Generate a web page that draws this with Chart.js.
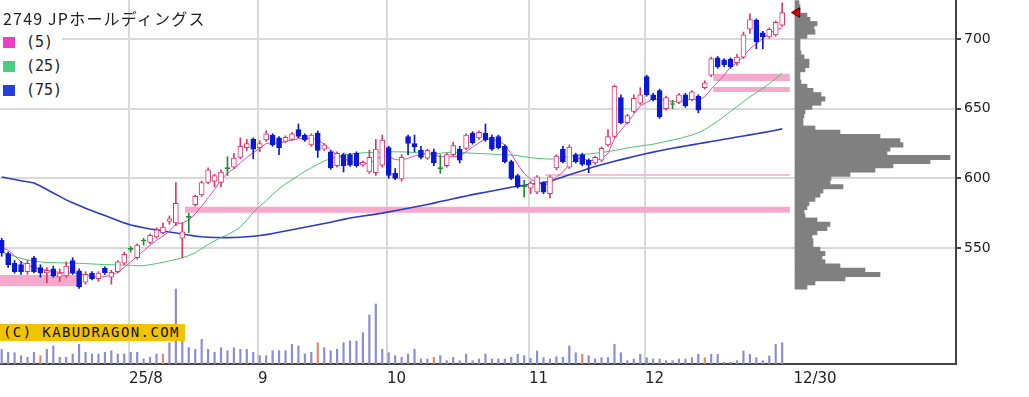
<!DOCTYPE html>
<html lang="ja">
<head>
<meta charset="UTF-8">
<title>2749 JPホールディングス</title>
<script src="https://cdn.jsdelivr.net/npm/chart.js"></script>
<style>
  body { margin: 0; background: #fff; }
  .wrap { position: relative; width: 1029px; height: 397px; }
  canvas { position: absolute; left: 0; top: 0; }
  .title {
    position: absolute; left: 3px; top: 6px;
    font: 16px 'Noto Sans CJK JP', sans-serif; letter-spacing: 1.2px; color: #222;
  }
  .legend {
    position: absolute; left: 0; top: 30px; width: 62px; background: #fff;
    font: 15px 'DejaVu Sans Mono', monospace; color: #222;
  }
  .legend div { height: 24px; display: flex; align-items: center; }
  .legend .box { width: 12px; height: 11px; margin: 0 11px 0 3px; }
  .wm {
    position: absolute; left: 0; top: 324px; width: 185px; height: 17px;
    background: #f2c300; font: 14px 'DejaVu Sans Mono', monospace;
    letter-spacing: 1.4px; line-height: 17px; padding-left: 3px; box-sizing: border-box; color: #111;
  }
</style>
</head>
<body>
<div class="wrap">
  <canvas id="chart" width="1029" height="397"></canvas>
  <div class="title">2749 JPホールディングス</div>
  <div class="legend">
    <div><span class="box" style="background:#ef3cc8"></span>(5)</div>
    <div><span class="box" style="background:#46d080"></span>(25)</div>
    <div><span class="box" style="background:#2040e0"></span>(75)</div>
  </div>
  <div class="wm">(C) KABUDRAGON.COM</div>
</div>

<script>
// daily candles, 25/7 .. 25/12/30
const opens = [
  555.5, 546, 539, 538, 533, 543, 536, 532, 535, 529,
  530, 541, 533.5, 525.5, 532, 528, 535.5, 529, 533, 539,
  549, 543, 555, 554, 558, 561, 569, 568, 557, 572,
  581, 588, 597, 598, 597, 607, 608, 615, 622, 628,
  622, 627.5, 631, 629, 626.5, 628, 635, 631, 624, 632.5,
  621, 619, 609, 617, 617, 618, 609.5, 604.5, 604, 609.5,
  622, 603.5, 599.5, 630, 625, 620, 614.5, 619, 607, 609,
  617, 621, 621.5, 632.5, 629, 632.5, 629.5, 630, 623, 612,
  602, 594, 593, 590, 596.5, 589, 607.5, 621, 608, 617,
  617, 613, 611, 613, 624, 630, 658, 640, 648, 654,
  673, 660, 663, 650, 653, 654.5, 660, 656.5, 659, 665,
  674, 686.5, 685, 685.5, 683, 687, 707, 713.5, 704.5, 701.5,
  703, 710
];
const highs = [
  557, 547, 541, 540, 541, 544, 538, 536, 537, 535,
  540, 543, 535, 533, 533, 533, 536.5, 534, 541, 547,
  551, 553, 557, 560, 564.5, 568, 573, 597, 568, 575,
  588, 598, 607.5, 603, 606, 615.5, 618, 629, 628, 629,
  627, 634, 632, 630, 630.5, 633, 639, 632, 632, 634,
  625, 620, 619, 618, 618, 619, 612.5, 620, 628, 631,
  623, 607, 617, 631, 631, 623, 621, 621, 617, 618,
  626, 623, 632, 633.5, 634, 639, 631, 631, 624, 613,
  603, 598.5, 598, 602, 597.5, 602, 617, 623, 624, 618,
  618, 614, 616, 622.5, 635, 667, 660, 646, 660, 665,
  674, 661, 664, 659, 656, 661, 661, 663, 660, 670,
  687, 687.5, 686, 686.5, 689, 705, 718, 714.5, 705.5, 708,
  713, 726
];
const lows = [
  544, 536, 532, 531, 531, 532, 529, 525, 529, 526,
  529, 531, 521, 524, 527, 526, 531, 524, 532, 538,
  547, 542, 552, 553, 557, 560, 567, 566, 543, 561,
  580, 587, 596, 594, 594, 602, 607, 614, 620, 614,
  619, 626.5, 623, 617, 625.5, 627, 629, 626.5, 623, 615,
  620, 606.5, 608, 604.5, 608.5, 608, 608.5, 603.5, 602, 608,
  600, 599, 598, 617, 619, 614, 613.5, 609, 603.5, 608,
  616, 611, 620.5, 624.5, 628, 626.5, 620, 621, 611, 599,
  593, 586.5, 589, 589, 589, 586, 606, 611, 607, 611,
  609, 604, 610, 612, 623, 629, 639, 639, 647, 653,
  659, 655.5, 643, 649, 650, 653.5, 651, 655.5, 647, 664,
  673, 679, 680, 679, 681, 686, 704, 693, 693, 700.5,
  702, 709
];
const closes = [
  546.5, 538, 533, 533, 539, 533, 532, 534, 530, 532,
  537, 532, 522, 531, 528, 532, 532, 532.5, 540, 545.5,
  549, 552, 555, 559, 563, 565, 571, 582, 561.5, 572,
  587, 597, 606, 602, 604.5, 607, 614.5, 623, 625, 621,
  625, 632, 624, 622, 629.5, 632, 630, 627.5, 631, 620,
  624, 607.5, 618, 609, 609.5, 609, 611.5, 615, 621, 627.5,
  602, 600, 615, 625, 622.5, 615, 620, 611, 607, 617,
  623.5, 613, 631, 625.5, 633, 627.5, 621, 622, 612, 600,
  594, 594, 596.5, 601, 590, 601, 616, 612, 622.5, 612,
  610, 609.5, 615, 621.5, 630, 666, 640, 645, 657.5, 660,
  660, 656.5, 644, 658, 653, 660, 652, 662, 649, 668.5,
  686, 680, 681.5, 680, 687, 703, 714, 698, 701.5, 707,
  712, 719
];
const volumes = [
  147, 117, 113, 83, 67, 117, 83, 147, 180, 67,
  67, 100, 197, 117, 100, 100, 117, 133, 100, 100,
  117, 117, 50, 67, 100, 100, 213, 750, 230, 163,
  147, 247, 147, 117, 163, 133, 163, 147, 147, 117,
  83, 83, 133, 133, 133, 197, 180, 100, 117, 213,
  163, 133, 147, 213, 230, 230, 313, 490, 600, 147,
  113, 83, 67, 100, 147, 50, 50, 67, 83, 33,
  67, 33, 100, 33, 50, 100, 50, 50, 50, 67,
  97, 83, 57, 130, 63, 50, 73, 67, 180, 113,
  97, 83, 50, 63, 63, 197, 113, 33, 50, 97,
  63, 50, 50, 33, 33, 50, 50, 63, 97, 63,
  97, 97, 17, 17, 33, 130, 97, 63, 33, 80,
  197, 213
];
const volMarked = [6, 25, 49, 67, 90, 109];

// moving averages as drawn (5 / 25 / 75 days)
const ma5 = [
  550.5, 548.5, 544.5, 540, 537.5, 536, 535, 534, 533, 532.5,
  532, 532, 531.5, 530.5, 529.5, 529, 529.5, 530.5, 532.5, 536,
  540, 544, 548, 552, 555.5, 558.5, 562, 567, 568, 570,
  574.5, 580, 586, 592, 599, 603.5, 607, 611, 615, 618.5,
  621.5, 625, 625.5, 625, 626.5, 627.5, 628.5, 628.5, 629, 627.5,
  624.5, 620.5, 617, 614, 612.5, 611, 610.5, 611, 613, 616.5,
  615.5, 613.5, 613, 614.5, 616, 617, 618, 617, 615.5, 615.5,
  615.5, 616, 619, 622.5, 625.5, 628, 628, 627, 624, 617.5,
  610, 603.5, 599.5, 597, 595, 596.5, 601, 604.5, 610, 614,
  614.5, 612.5, 613, 614, 618, 628.5, 634.5, 640, 646, 652,
  654.5, 657, 656.5, 656, 655, 655, 656, 657, 656.5, 658.5,
  664, 669, 674, 680, 683, 687.5, 693, 696.5, 700.5, 704,
  706.5, 708
];
const ma25 = [
  547, 545.5, 544, 542.5, 541.5, 540.5, 540, 539.5, 539.5, 539.3,
  539.2, 539.2, 539, 538.8, 538.5, 538.3, 538, 538, 537.8, 537.7,
  537.5, 537.2, 537.3, 538, 538.8, 539.7, 540.7, 541.8, 543, 544.5,
  546.5, 549.5, 552.5, 555, 557.5, 559.5, 562, 565, 570, 575.5,
  580, 584, 588.5, 592.5, 596, 599, 602, 605, 607.5, 610,
  612.5, 614, 615.5, 616.5, 617.5, 618, 618.3, 618.5, 618.7, 618.9,
  619, 619, 619, 618.8, 618.5, 618, 617.5, 617.5, 618, 618.5,
  618.8, 618.5, 618.3, 618, 617.8, 617.6, 617.4, 617, 616.8, 616.7,
  616.3, 615.5, 614.8, 614.3, 614, 613.8, 614, 615, 615.8, 616.5,
  617, 617.5, 618, 618.5, 619.2, 620, 620.8, 621.8, 622.5, 623.2,
  623.8, 624.5, 625.5, 626.5, 627.5, 628.5, 629.8, 631, 632.8, 635,
  638, 641, 644.5, 648, 651.5, 655, 658.5, 661.5, 664.5, 668,
  671.5, 675.5
];
const ma75 = [
  601, 600, 599.2, 598.3, 597.5, 596.6, 594.5, 592, 589.5, 587,
  584.5, 582.5, 580.5, 578.5, 576.8, 575, 573.3, 571.5, 569.8, 568,
  566.5, 565.5, 564.5, 563.6, 563, 562.2, 561.5, 560.7, 560, 559.3,
  558.5, 558, 557.7, 557.5, 557.4, 557.4, 557.5, 557.7, 558, 558.4,
  558.9, 559.6, 560.4, 561.3, 562.2, 563.1, 564, 564.9, 565.8, 566.6,
  567.5, 568.5, 569.5, 570.5, 571.5, 572.2, 572.9, 573.6, 574.3, 575,
  575.9, 576.7, 577.6, 578.5, 579.4, 580.3, 581.2, 582.2, 583.3, 584.3,
  585.3, 586.3, 587.3, 588.3, 589.2, 590, 590.9, 591.8, 592.7, 593.6,
  594.3, 595, 595.7, 596.3, 597, 597.8, 599.5, 601, 602.5, 604,
  605.5, 607, 608.5, 609.8, 611, 612.2, 613.4, 614.5, 615.6, 616.7,
  617.8, 618.8, 619.8, 620.7, 621.6, 622.4, 623.2, 624, 624.8, 625.6,
  626.4, 627.2, 628, 628.8, 629.6, 630.4, 631.2, 632, 632.8, 633.6,
  634.5, 635.5
];

// volume-at-price profile (3 yen bins)
const profPrices = [
  522, 525, 528, 531, 534, 537, 540, 543, 546, 549,
  552, 555, 558, 561, 564, 567, 570, 573, 576, 579,
  582, 585, 588, 591, 594, 597, 600, 603, 606, 609,
  612, 615, 618, 621, 624, 627, 630, 633, 636, 639,
  642, 645, 648, 651, 654, 657, 660, 663, 666, 669,
  672, 675, 678, 681, 684, 687, 690, 693, 696, 699,
  702, 705, 708, 711, 714, 717, 720, 723, 726
];
const profVolumes = [
  12, 20, 50, 85, 70, 45, 30, 27, 30, 25,
  18, 18, 17, 22, 32, 35, 22, 10, 9, 12,
  14, 20, 25, 28, 48, 35, 36, 55, 80, 98,
  135, 155, 92, 95, 108, 105, 85, 45, 20, 8,
  8, 9, 10, 17, 26, 30, 26, 18, 12, 6,
  5, 5, 10, 14, 14, 9, 6, 5, 5, 5,
  12, 20, 19, 22, 15, 12, 5, 5, 4
];

// pink price zones: from bar, to bar, low, high
const zoneFrom = [-0.3, 28.4, 84.2, 110.3, 110.3];
const zoneTo = [11.7, 122.2, 122.2, 122.2, 122.2];
const zoneLow = [522.5, 575.2, 601.8, 669.8, 662];
const zoneHigh = [530.5, 579.5, 602.9, 675, 665.5];

// axes
const monthStart = [20, 40, 60, 82, 100, 123];
const monthLabels = ['25/8', '9', '10', '11', '12', '12/30'];
const priceTicks = [550, 600, 650, 700];

const UP = '#e5336b', DOWN = '#0a18d6', DOJI = '#1f8a30';
const candleColors = closes.map((c, i) => c > opens[i] ? UP : (c < opens[i] ? DOWN : DOJI));
const bodyFill = closes.map((c, i) => c > opens[i] ? '#ffffff' : candleColors[i]);
const volColors = volumes.map((v, i) => volMarked.includes(i) ? '#e2876f' : '#8b8bd6');

const datasets = [];

datasets.push({
  type: 'scatter', order: 0,
  data: [{x: closes.length + 1.3, y: closes[closes.length - 1]}],
  pointStyle: 'triangle', rotation: -90, pointRadius: 5.5,
  backgroundColor: '#e00000', borderColor: '#3a0000', borderWidth: 1
});
datasets.push({
  type: 'bar', order: 1, grouped: false,
  data: closes.map((c, i) => ({x: i, y: [opens[i], c]})),
  backgroundColor: bodyFill, borderColor: candleColors,
  borderWidth: 1, borderSkipped: false, barThickness: 5, minBarLength: 1
});
datasets.push({
  type: 'bar', order: 2, grouped: false,
  data: highs.map((h, i) => ({x: i, y: [lows[i], h]})),
  backgroundColor: candleColors, borderWidth: 0, barThickness: 1
});
datasets.push({
  type: 'line', order: 3, data: ma5.map((v, i) => ({x: i, y: v})),
  borderColor: '#e54aac', borderWidth: 1, pointRadius: 0, fill: false
});
datasets.push({
  type: 'line', order: 4, data: ma25.map((v, i) => ({x: i, y: v})),
  borderColor: '#4cc46e', borderWidth: 1, pointRadius: 0, fill: false
});
datasets.push({
  type: 'line', order: 5, data: ma75.map((v, i) => ({x: i, y: v})),
  borderColor: '#2a3bc6', borderWidth: 1.6, pointRadius: 0, fill: false
});
datasets.push({
  type: 'bar', order: 6, grouped: false, indexAxis: 'y',
  xAxisID: 'xp', yAxisID: 'y',
  data: profVolumes.map((v, i) => ({x: v, y: profPrices[i]})),
  backgroundColor: '#808080', borderWidth: 0, barThickness: 4.4
});
datasets.push({
  type: 'bar', order: 7, grouped: false, yAxisID: 'yv',
  data: volumes.map((v, i) => ({x: i, y: v})),
  backgroundColor: volColors, borderWidth: 0, barThickness: 1.5
});
zoneFrom.forEach((from, k) => {
  datasets.push({
    type: 'line', order: 8,
    data: [{x: from, y: zoneHigh[k]}, {x: zoneTo[k], y: zoneHigh[k]}],
    borderWidth: 0, pointRadius: 0, fill: '+1', backgroundColor: '#f5aacb'
  });
  datasets.push({
    type: 'line', order: 8,
    data: [{x: from, y: zoneLow[k]}, {x: zoneTo[k], y: zoneLow[k]}],
    borderWidth: 0, pointRadius: 0, fill: false
  });
});

const GRID = '#d9d9d9', AXIS = '#444';

new Chart(document.getElementById('chart'), {
  type: 'bar',
  data: { datasets },
  options: {
    responsive: false,
    animation: false,
    devicePixelRatio: 1,
    events: [],
    layout: { padding: 0, autoPadding: false },
    plugins: { legend: { display: false }, tooltip: { enabled: false } },
    scales: {
      x: {
        type: 'linear', min: -0.264, max: 147.95, offset: false, bounds: 'data',
        afterBuildTicks: s => { s.ticks = monthStart.map(v => ({value: v - 0.26})); },
        afterFit: s => { s.height = 33; s.paddingLeft = 0; s.paddingRight = 0; },
        grid: {
          offset: false, drawTicks: false, lineWidth: 2,
          color: ctx => ctx.index === monthStart.length - 1 ? 'rgba(0,0,0,0)' : GRID
        },
        border: { display: true, color: AXIS, width: 2 },
        ticks: {
          align: 'start', padding: 6, autoSkip: false, maxRotation: 0,
          color: '#222', font: { family: 'DejaVu Sans', size: 15 },
          callback: (v, i) => monthLabels[i]
        }
      },
      y: {
        type: 'linear', position: 'right', min: 466.7, max: 728,
        offset: false, beginAtZero: false, bounds: 'data',
        afterBuildTicks: s => { s.ticks = priceTicks.map(v => ({value: v})); },
        afterFit: s => { s.width = 73; s.paddingTop = 0; s.paddingBottom = 0; },
        grid: {
          offset: false, color: GRID, lineWidth: 2,
          drawTicks: true, tickLength: 5, tickColor: AXIS, tickWidth: 2
        },
        border: { display: true, color: AXIS, width: 2 },
        ticks: { padding: 3, color: '#222', font: { family: 'DejaVu Sans', size: 14 } }
      },
      yv: { type: 'linear', display: false, min: 0, max: 3640, beginAtZero: true },
      xp: { type: 'linear', display: false, min: -795, max: 161, offset: false }
    }
  }
});
</script>
</body>
</html>
